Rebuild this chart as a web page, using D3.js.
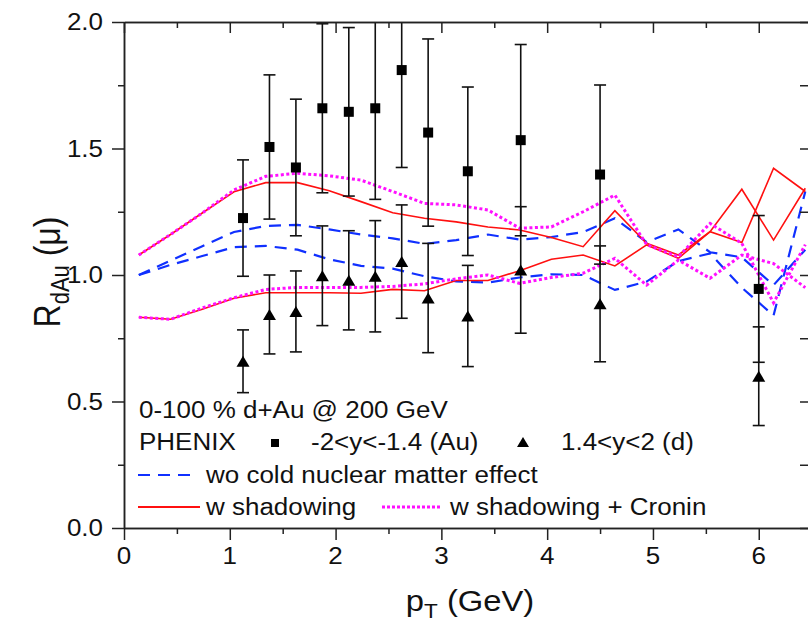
<!DOCTYPE html>
<html><head><meta charset="utf-8">
<script src="https://cdn.jsdelivr.net/npm/d3@7"></script>
<style>body{margin:0;background:#fff} svg{display:block}</style>
</head><body><svg id="c" width="808" height="627"></svg>
<script>
// ---------- data ----------
const xTicks = [0, 1, 2, 3, 4, 5, 6];
const xMinor = [0.5, 1.5, 2.5, 3.5, 4.5, 5.5];
const yTicks = [0.0, 0.5, 1.0, 1.5, 2.0];
const yMinor = [0.25, 0.75, 1.25, 1.75];

// PHENIX data
const ptData = [1.125, 1.375, 1.625, 1.875, 2.125, 2.375, 2.625, 2.875, 3.25, 3.75, 4.5, 6.0];
const rAu   = [1.225, 1.506, 1.425, 1.659, 1.645, 1.659, 1.81, 1.563, 1.41, 1.533, 1.397, 0.945];
const errAu = [0.23, 0.285, 0.27, 0.334, 0.333, 0.36, 0.385, 0.37, 0.333, 0.378, 0.354, 0.29];
const rD    = [0.659, 0.844, 0.856, 0.997, 0.979, 0.995, 1.053, 0.909, 0.838, 1.02, 0.886, 0.60];
const errD  = [0.124, 0.156, 0.16, 0.197, 0.196, 0.22, 0.224, 0.216, 0.2, 0.25, 0.229, 0.195];

// theory curves
const thX    = [0.14, 0.44, 0.74, 1.04, 1.34, 1.64, 1.94, 2.24, 2.54, 2.84, 3.14, 3.44, 3.74, 4.04, 4.34, 4.64, 4.94, 5.24, 5.54, 5.84, 6.14, 6.44];
const blueAu = [1.0, 1.057, 1.114, 1.17, 1.194, 1.198, 1.18, 1.16, 1.145, 1.123, 1.138, 1.16, 1.14, 1.15, 1.17, 1.224, 1.13, 1.18, 1.09, 1.07, 0.96, 1.10];
const blueD  = [1.0, 1.04, 1.075, 1.11, 1.115, 1.10, 1.062, 1.036, 1.025, 0.995, 0.975, 0.97, 0.99, 1.003, 1.0, 0.941, 0.974, 1.055, 1.085, 0.95, 0.84, 1.33];
const redAu  = [1.079, 1.16, 1.245, 1.329, 1.365, 1.365, 1.333, 1.29, 1.246, 1.224, 1.21, 1.19, 1.178, 1.148, 1.112, 1.254, 1.125, 1.079, 1.171, 1.339, 1.138, 1.343];
const redD   = [0.833, 0.825, 0.865, 0.908, 0.93, 0.93, 0.93, 0.928, 0.943, 0.938, 0.978, 0.978, 1.017, 1.062, 1.079, 1.036, 1.119, 1.066, 1.171, 1.128, 1.422, 1.33];
const magAu  = [1.079, 1.16, 1.245, 1.336, 1.39, 1.402, 1.392, 1.375, 1.33, 1.283, 1.277, 1.257, 1.185, 1.19, 1.25, 1.316, 1.12, 1.072, 1.204, 1.125, 0.89, 1.12];
const magD   = [0.833, 0.825, 0.87, 0.91, 0.943, 0.951, 0.951, 0.951, 0.955, 0.965, 0.985, 1.0, 0.967, 0.99, 1.007, 1.066, 0.96, 1.059, 0.987, 1.079, 1.045, 0.95];

const legendTitle = "0-100 % d+Au @ 200 GeV";
const legendExp = "PHENIX";
const legendAu = "-2<y<-1.4 (Au)";
const legendD = "1.4<y<2 (d)";
const legendBlue = "wo cold nuclear matter effect";
const legendRed = "w shadowing";
const legendMag = "w shadowing + Cronin";

// ---------- setup ----------
const FONT = "'Liberation Sans', Arial, Helvetica, sans-serif";
const SX = 1.13;
const L = 124, R = 809, T = 22, B = 528;
const svg = d3.select("#c");
const x = d3.scaleLinear().domain([0, 6.475]).range([L, R]);
const y = d3.scaleLinear().domain([0, 2]).range([B, T]);
const AX = "#222";

function txt(g, px, py, s, size, anchor) {
  return g.append("text")
    .attr("transform", `translate(${px},${py}) scale(${SX},1)`)
    .attr("font-family", FONT).attr("font-size", size)
    .attr("text-anchor", anchor || "start").attr("fill", "#111").text(s);
}

svg.append("defs").append("clipPath").attr("id", "pc")
  .append("rect").attr("x", L).attr("y", T).attr("width", R - L).attr("height", B - T);

// ---------- curves ----------
const plot = svg.append("g").attr("clip-path", "url(#pc)");
const line = d3.line().x((d) => x(d[0])).y((d) => y(d[1]));
const curves = [
  {v: blueAu, c: "#1030ff", w: 2.2, dash: "12,8"},
  {v: blueD, c: "#1030ff", w: 2.2, dash: "12,8"},
  {v: redAu, c: "#ff1010", w: 1.6, dash: null},
  {v: redD, c: "#ff1010", w: 1.6, dash: null},
  {v: magAu, c: "#ff10ff", w: 3, dash: "3,2.5"},
  {v: magD, c: "#ff10ff", w: 3, dash: "3,2.5"}
];
curves.forEach((cv) => {
  plot.append("path").datum(thX.map((xx, i) => [xx, cv.v[i]]))
    .attr("d", line).attr("fill", "none").attr("stroke", cv.c)
    .attr("stroke-width", cv.w).attr("stroke-dasharray", cv.dash);
});

// ---------- error bars & markers ----------
function errBars(vals, errs) {
  ptData.forEach((p, i) => {
    const cx = x(p);
    plot.append("line").attr("x1", cx).attr("x2", cx)
      .attr("y1", y(vals[i] - errs[i])).attr("y2", y(vals[i] + errs[i]))
      .attr("stroke", "#111").attr("stroke-width", 1.6);
    [vals[i] - errs[i], vals[i] + errs[i]].forEach((v) => {
      plot.append("line").attr("x1", cx - 6).attr("x2", cx + 6)
        .attr("y1", y(v)).attr("y2", y(v))
        .attr("stroke", "#111").attr("stroke-width", 1.6);
    });
  });
}
errBars(rAu, errAu);
errBars(rD, errD);

function square(g, cx, cy, s) {
  g.append("rect").attr("x", cx - s / 2).attr("y", cy - s / 2)
    .attr("width", s).attr("height", s).attr("fill", "#000");
}
function tri(g, cx, cy, w, h) {
  g.append("path").attr("d", `M${cx},${cy - h / 2}L${cx + w / 2},${cy + h / 2}L${cx - w / 2},${cy + h / 2}Z`)
    .attr("fill", "#000");
}
ptData.forEach((p, i) => {
  square(plot, x(p), y(rAu[i]), 10);
  tri(plot, x(p), y(rD[i]), 13, 11);
});

// ---------- axes ----------
const ax = svg.append("g");
function styleAxis(g) {
  g.selectAll(".domain").attr("stroke", AX).attr("stroke-width", 1.5);
  g.selectAll(".tick line").attr("stroke", AX).attr("stroke-width", 1.5);
  g.selectAll(".tick text").remove();
}
ax.append("g").attr("transform", `translate(0,${B})`)
  .call(d3.axisBottom(x).tickValues(xTicks).tickSize(12).tickSizeOuter(0)).call(styleAxis);
ax.append("g").attr("transform", `translate(0,${B})`)
  .call(d3.axisBottom(x).tickValues(xMinor).tickSize(6).tickSizeOuter(0)).call(styleAxis);
ax.append("g").attr("transform", `translate(0,${T})`)
  .call(d3.axisTop(x).tickValues(xTicks).tickSize(-11).tickSizeOuter(0)).call(styleAxis);
ax.append("g").attr("transform", `translate(0,${T})`)
  .call(d3.axisTop(x).tickValues(xMinor).tickSize(-6).tickSizeOuter(0)).call(styleAxis);
ax.append("g").attr("transform", `translate(${L},0)`)
  .call(d3.axisLeft(y).tickValues(yTicks).tickSize(12).tickSizeOuter(0)).call(styleAxis);
ax.append("g").attr("transform", `translate(${L},0)`)
  .call(d3.axisLeft(y).tickValues(yMinor).tickSize(6).tickSizeOuter(0)).call(styleAxis);
ax.append("g").attr("transform", `translate(${R},0)`)
  .call(d3.axisRight(y).tickValues(yTicks.concat(yMinor)).tickSize(-9).tickSizeOuter(0)).call(styleAxis);

// tick labels
const fmt = d3.format(".1f");
yTicks.forEach((v) => txt(ax, 103, y(v) + 8.2, fmt(v), 23, "end"));
xTicks.forEach((v) => txt(ax, x(v), 564, String(v), 23, "middle"));

// axis titles
const xt = svg.append("text")
  .attr("transform", `translate(470,611) scale(${SX},1)`)
  .attr("font-family", FONT).attr("font-size", 29).attr("text-anchor", "middle").attr("fill", "#111");
xt.append("tspan").text("p");
xt.append("tspan").attr("font-size", 20).attr("dy", 7).text("T");
xt.append("tspan").attr("dy", -7).text(" (GeV)");

const yt = svg.append("text")
  .attr("transform", `translate(60,272) rotate(-90) scale(1,${SX})`)
  .attr("font-family", FONT).attr("font-size", 32).attr("text-anchor", "middle").attr("fill", "#111");
yt.append("tspan").text("R");
yt.append("tspan").attr("font-size", 22).attr("dy", 8).text("dAu");
yt.append("tspan").attr("dy", -8).text(" (\u03bc)");

// ---------- legend ----------
const lg = svg.append("g");
txt(lg, 139, 418, legendTitle, 23);
txt(lg, 139, 450, legendExp, 23);
square(lg, 275, 443, 8);
txt(lg, 311, 450, legendAu, 23);
tri(lg, 523, 442, 12, 10);
txt(lg, 561, 450, legendD, 23);

lg.append("line").attr("x1", 138).attr("x2", 197).attr("y1", 475).attr("y2", 475)
  .attr("stroke", "#1030ff").attr("stroke-width", 2.2).attr("stroke-dasharray", "12,8");
txt(lg, 206, 483, legendBlue, 23);
lg.append("line").attr("x1", 138).attr("x2", 200).attr("y1", 507).attr("y2", 507)
  .attr("stroke", "#ff1010").attr("stroke-width", 1.8);
txt(lg, 206, 515, legendRed, 23);
lg.append("line").attr("x1", 382).attr("x2", 441).attr("y1", 507).attr("y2", 507)
  .attr("stroke", "#ff10ff").attr("stroke-width", 3).attr("stroke-dasharray", "3,2");
txt(lg, 450, 515, legendMag, 23);
</script></body></html>
